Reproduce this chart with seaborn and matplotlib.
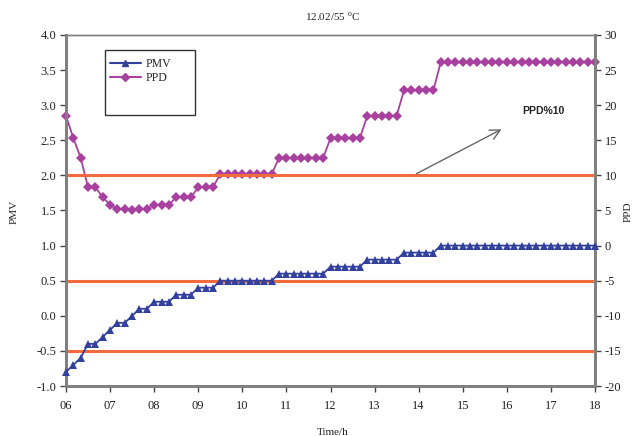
import numpy as np
import pandas as pd
import matplotlib
matplotlib.use("Agg")
import matplotlib.pyplot as plt
from matplotlib.patches import Rectangle
from matplotlib.lines import Line2D
import seaborn as sns

sns.set_theme(style="white")
plt.rcParams['font.family'] = ['Liberation Serif', 'DejaVu Serif']

# ---- data (10-minute samples from 06:00 to 18:00) ----
pmv = [-0.8, -0.7, -0.6, -0.4, -0.4, -0.3, -0.2, -0.1, -0.1, 0.0,
       0.1, 0.1, 0.2, 0.2, 0.2, 0.3, 0.3, 0.3, 0.4, 0.4,
       0.4, 0.5, 0.5, 0.5, 0.5, 0.5, 0.5, 0.5, 0.5, 0.6,
       0.6, 0.6, 0.6, 0.6, 0.6, 0.6, 0.7, 0.7, 0.7, 0.7,
       0.7, 0.8, 0.8, 0.8, 0.8, 0.8, 0.9, 0.9, 0.9, 0.9,
       0.9, 1.0, 1.0, 1.0, 1.0, 1.0, 1.0, 1.0, 1.0, 1.0,
       1.0, 1.0, 1.0, 1.0, 1.0, 1.0, 1.0, 1.0, 1.0, 1.0,
       1.0, 1.0, 1.0]
ppd = [18.5, 15.3, 12.5, 8.3, 8.3, 6.9, 5.8, 5.2, 5.2, 5.0,
       5.2, 5.2, 5.8, 5.8, 5.8, 6.9, 6.9, 6.9, 8.3, 8.3,
       8.3, 10.2, 10.2, 10.2, 10.2, 10.2, 10.2, 10.2, 10.2, 12.5,
       12.5, 12.5, 12.5, 12.5, 12.5, 12.5, 15.3, 15.3, 15.3, 15.3,
       15.3, 18.5, 18.5, 18.5, 18.5, 18.5, 22.1, 22.1, 22.1, 22.1,
       22.1, 26.1, 26.1, 26.1, 26.1, 26.1, 26.1, 26.1, 26.1, 26.1,
       26.1, 26.1, 26.1, 26.1, 26.1, 26.1, 26.1, 26.1, 26.1, 26.1,
       26.1, 26.1, 26.1]
time_h = np.linspace(6, 18, len(pmv))
x_ticks = list(range(6, 19))
x_labels = ["06", "07", "08", "09", "10", "11", "12", "13", "14", "15", "16", "17", "18"]
pmv_ticks = [-1.0, -0.5, 0.0, 0.5, 1.0, 1.5, 2.0, 2.5, 3.0, 3.5, 4.0]
ppd_ticks = [-20, -15, -10, -5, 0, 5, 10, 15, 20, 25, 30]
limit_lines = [2.0, 0.5, -0.5]

df = pd.DataFrame({"time": time_h, "PMV": pmv, "PPD": ppd})

PMV_C = "#33419e"
PPD_C = "#a8409f"
ORANGE = "#f26b3d"
GRAY = "#808080"

fig = plt.figure(figsize=(6.37, 4.36), dpi=100)
ax = fig.add_axes([66/637, 1-386/436, (595-66)/637, (386-35)/436])
ax2 = ax.twinx()

for y in limit_lines:
    ax.axhline(y, color=ORANGE, lw=2.2, zorder=1)

sns.lineplot(data=df, x="time", y="PMV", ax=ax, color=PMV_C, marker="^",
             markersize=5.5, markeredgewidth=0, lw=1.3, zorder=3, clip_on=False)
sns.lineplot(data=df, x="time", y="PPD", ax=ax2, color=PPD_C, marker="D",
             markersize=4.8, markeredgewidth=0, lw=1.3, zorder=3, clip_on=False)

ax.set_xlim(6, 18)
ax.set_ylim(-1.0, 4.0)
ax2.set_ylim(-20, 30)
ax.set_xticks(x_ticks)
ax.set_xticklabels(x_labels)
ax.set_yticks(pmv_ticks)
ax.set_yticklabels(["%.1f" % v for v in pmv_ticks])
ax2.set_yticks(ppd_ticks)
ax2.set_yticklabels([str(v) for v in ppd_ticks])
ax.set_xlabel("")
ax.set_ylabel("")
ax2.set_ylabel("")

for a in (ax, ax2):
    for s in ("left", "bottom", "right"):
        a.spines[s].set_color(GRAY)
        a.spines[s].set_linewidth(2.0)
    a.spines["top"].set_color(GRAY)
    a.spines["top"].set_linewidth(1.0)
    a.tick_params(axis="both", which="both", direction="out", length=4, width=1,
                  color="#444444", labelsize=9, labelcolor="#222222", pad=3)
ax.tick_params(axis="x", pad=6)
ax2.tick_params(axis="y", right=True, pad=3)
ax.tick_params(axis="y", left=True)
ax.tick_params(axis="x", bottom=True)

ax2.patch.set_visible(False)
ax.set_zorder(ax2.get_zorder() + 1)
ax.patch.set_visible(False)

# Title & labels
fig.text(333/637, 1-17/436, "12.02/55 $^{\\mathregular{o}}$C", ha="center", va="center",
         fontsize=8, color="#222222")
fig.text(14/637, 1-212/436, "PMV", rotation=90, ha="center", va="center",
         fontsize=8, color="#222222")
fig.text(628/637, 1-212/436, "PPD", rotation=90, ha="center", va="center",
         fontsize=8, color="#222222")
fig.text(333/637, 1-432/436, "Time/h", ha="center", va="center",
         fontsize=8, color="#222222")

# Arrow annotation
ax.annotate("", xy=(504/637, 1-128/436), xytext=(414/637, 1-175/436),
            xycoords="figure fraction", textcoords="figure fraction",
            arrowprops=dict(arrowstyle="->", color="#666666", lw=1.0,
                            mutation_scale=18))
fig.text(543/637, 1-111/436, "PPD%10", ha="center", va="center", fontsize=7.5,
         fontweight="bold", family=["Liberation Sans", "DejaVu Sans"], color="#222222")

# Legend box
fig.patches.append(Rectangle((105/637, 1-115/436), 90/637, 65/436,
                             transform=fig.transFigure, fill=False,
                             edgecolor="#333333", lw=1.0, zorder=5))
handles = [Line2D([0], [0], color=PMV_C, marker="^", markersize=5, lw=1.5),
           Line2D([0], [0], color=PPD_C, marker="D", markersize=4.5, lw=1.5)]
fig.legend(handles, ["PMV", "PPD"], loc="upper left",
           bbox_to_anchor=(110/637, 1-58/436), frameon=False, fontsize=8.5,
           handlelength=2.6, handletextpad=0.4, labelspacing=0.15,
           borderpad=0.0, borderaxespad=0.0)

fig.savefig("out.png", dpi=100)
